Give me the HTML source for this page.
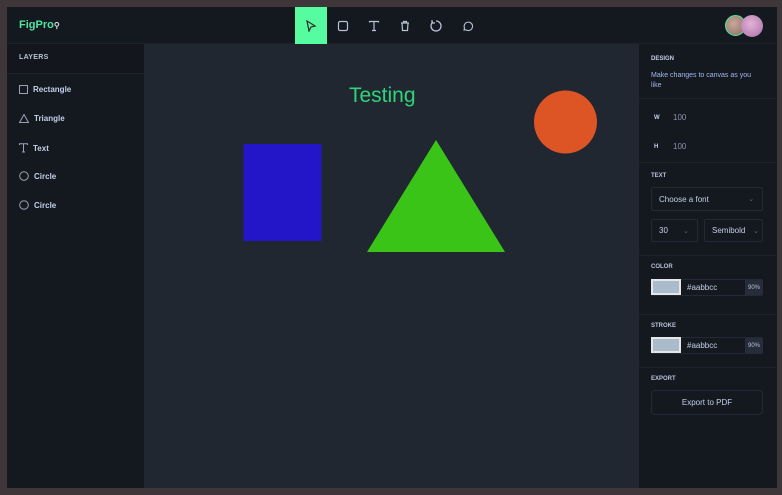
<!DOCTYPE html>
<html><head><meta charset="utf-8"><style>
*{margin:0;padding:0;box-sizing:border-box}
body{width:782px;height:495px;background:#3e3639;font-family:"Liberation Sans",sans-serif;position:relative;overflow:hidden}
.app{position:absolute;left:7px;top:7px;width:770px;height:481px;background:#14181f}
.top{position:absolute;left:0;top:0;width:770px;height:37px;background:#14181f;border-bottom:1px solid #1d222b}
.logo{position:absolute;left:12px;top:12px;font-size:11px;font-weight:bold;color:#4fe6a0}
.tool{position:absolute;top:0;width:32px;height:37px;display:flex;align-items:center;justify-content:center}
.left{position:absolute;left:0;top:37px;width:137px;height:444px;background:#14181f}
.lh{height:30px;border-bottom:1px solid #1d222b;background:#13171d;padding:10px 12px;font-size:7px;font-weight:bold;color:#b8c2d8;letter-spacing:.3px}
.li{position:absolute;left:12px;font-size:8px;font-weight:bold;color:#c4d0ea;display:flex;align-items:center;gap:5px}
.canvas{position:absolute;left:137px;top:37px;width:495px;height:444px;background:#202731}
.right{position:absolute;left:632px;top:37px;width:138px;height:444px;background:#14181f}
.sec{position:absolute;left:0;width:138px;border-bottom:1px solid #1d222b}
.t{position:absolute;left:12px;font-size:6px;font-weight:bold;color:#b8c2d8}
.box{position:absolute;border:1px solid #232935;border-radius:2px;font-size:8px;color:#c4d0ea;display:flex;align-items:center;padding-left:7px}
.sw{position:absolute;left:12px;width:30px;height:16px;background:#aabbcc;border:2px solid #e6e6e6}
</style></head><body>
<div class="app">
<div class="top">
<div class="logo">FigPro<span style="font-size:8px;color:#ddd">⚲</span></div>
<div class="tool" style="left:288px;background:#56fca0"><svg width="12" height="12" viewBox="0 0 12 12"><path d="M2 1 L10 6 L6 7 L4 11 Z" fill="none" stroke="#333" stroke-width="1.3"/></svg></div>
<div class="tool" style="left:320px"><svg width="12" height="12"><rect x="1.5" y="1.5" width="9" height="9" rx="1.5" fill="none" stroke="#b8c2d8" stroke-width="1.2"/></svg></div>
<div class="tool" style="left:351px"><svg width="12" height="12"><path d="M1.5 2.5V1.5H10.5V2.5M6 1.5V10.5M4 10.5H8" fill="none" stroke="#b8c2d8" stroke-width="1.2"/></svg></div>
<div class="tool" style="left:382px"><svg width="12" height="12"><path d="M2 3H10M4.5 3V1.5H7.5V3M3 3L3.5 10.5H8.5L9 3" fill="none" stroke="#b8c2d8" stroke-width="1.2"/></svg></div>
<div class="tool" style="left:413px"><svg width="14" height="14"><path d="M4 3A5 5 0 1 0 7 2" fill="none" stroke="#b8c2d8" stroke-width="1.3"/><path d="M3 1V4H6" fill="none" stroke="#b8c2d8" stroke-width="1.2"/></svg></div>
<div class="tool" style="left:444px"><svg width="12" height="12"><path d="M3 10L3.5 8A4.2 4.2 0 1 1 5 9.8Z" fill="none" stroke="#b8c2d8" stroke-width="1.1"/></svg></div>
<div style="position:absolute;left:718px;top:8px;width:21px;height:21px;border-radius:50%;background:radial-gradient(circle at 40% 40%,#c4a898,#8c6e60);border:1.5px solid #4fe6a0"></div>
<div style="position:absolute;left:734px;top:8px;width:22px;height:22px;border-radius:50%;background:radial-gradient(circle at 45% 40%,#e2b2d8,#a86ea4)"></div>
</div>
<div class="left">
<div class="lh">LAYERS</div>
<div class="li" style="top:41px"><svg width="9" height="9"><rect x=".5" y=".5" width="8" height="8" fill="none" stroke="#9aa3b5"/></svg>Rectangle</div>
<div class="li" style="top:70px"><svg width="10" height="9"><path d="M5 .5L9.5 8.5H.5Z" fill="none" stroke="#9aa3b5"/></svg>Triangle</div>
<div class="li" style="top:99px"><svg width="9" height="10"><path d="M.5 2V.8H8.5V2M4.5 .8V9M3 9H6" fill="none" stroke="#9aa3b5"/></svg>Text</div>
<div class="li" style="top:127px"><svg width="10" height="10"><circle cx="5" cy="5" r="4.3" fill="none" stroke="#9aa3b5"/></svg>Circle</div>
<div class="li" style="top:156px"><svg width="10" height="10"><circle cx="5" cy="5" r="4.3" fill="none" stroke="#9aa3b5"/></svg>Circle</div>
</div>
<div class="canvas">
<svg width="495" height="444" style="position:absolute;left:0;top:0">
<text x="205" y="58" font-family="Liberation Sans" font-size="21" fill="#2fd47a">Testing</text>
<rect x="99.5" y="100" width="78" height="97" fill="#2316c8"/>
<path d="M292 96L361 208H223Z" fill="#3bc418"/>
<circle cx="421.5" cy="78" r="31.5" fill="#dd5524"/>
</svg>
</div>
<div class="right">
<div class="sec" style="top:0;height:55px"></div>
<div class="t" style="top:12px;color:#c4d0ea">DESIGN</div>
<div style="position:absolute;left:12px;top:27px;font-size:7px;line-height:10px;color:#a6b8f0;width:108px">Make changes to canvas as you like</div>
<div class="sec" style="top:55px;height:64px"></div>
<div style="position:absolute;left:15px;top:71px;font-size:6px;font-weight:bold;color:#c4d0ea">W</div>
<div style="position:absolute;left:34px;top:69px;font-size:8px;color:#8894ac">100</div>
<div style="position:absolute;left:15px;top:100px;font-size:6px;font-weight:bold;color:#c4d0ea">H</div>
<div style="position:absolute;left:34px;top:98px;font-size:8px;color:#8894ac">100</div>
<div class="sec" style="top:119px;height:93px"></div>
<div class="t" style="top:129px">TEXT</div>
<div class="box" style="left:12px;top:143px;width:112px;height:24px">Choose a font<span style="position:absolute;right:8px;color:#667;font-size:7px">⌄</span></div>
<div class="box" style="left:12px;top:175px;width:47px;height:23px">30<span style="position:absolute;right:8px;color:#667;font-size:7px">⌄</span></div>
<div class="box" style="left:65px;top:175px;width:59px;height:23px">Semibold<span style="position:absolute;right:3px;color:#667;font-size:7px">⌄</span></div>
<div class="sec" style="top:212px;height:59px"></div>
<div class="t" style="top:220px">COLOR</div>
<div class="box" style="left:12px;top:235px;width:112px;height:17px;padding-left:35px">#aabbcc</div>
<div class="sw" style="top:235px"></div>
<div style="position:absolute;left:106px;top:236px;width:18px;height:15px;background:#262c39;color:#b8c2d8;font-size:6px;display:flex;align-items:center;justify-content:center">90%</div>
<div class="t" style="top:279px">STROKE</div>
<div class="box" style="left:12px;top:293px;width:112px;height:17px;padding-left:35px">#aabbcc</div>
<div class="sw" style="top:293px"></div>
<div style="position:absolute;left:106px;top:294px;width:18px;height:15px;background:#262c39;color:#b8c2d8;font-size:6px;display:flex;align-items:center;justify-content:center">90%</div>
<div class="sec" style="top:271px;height:53px"></div>
<div class="t" style="top:332px">EXPORT</div>
<div class="box" style="left:12px;top:346px;width:112px;height:25px;justify-content:center;padding:0;border-radius:4px">Export to PDF</div>
</div>
</div>
</body></html>
